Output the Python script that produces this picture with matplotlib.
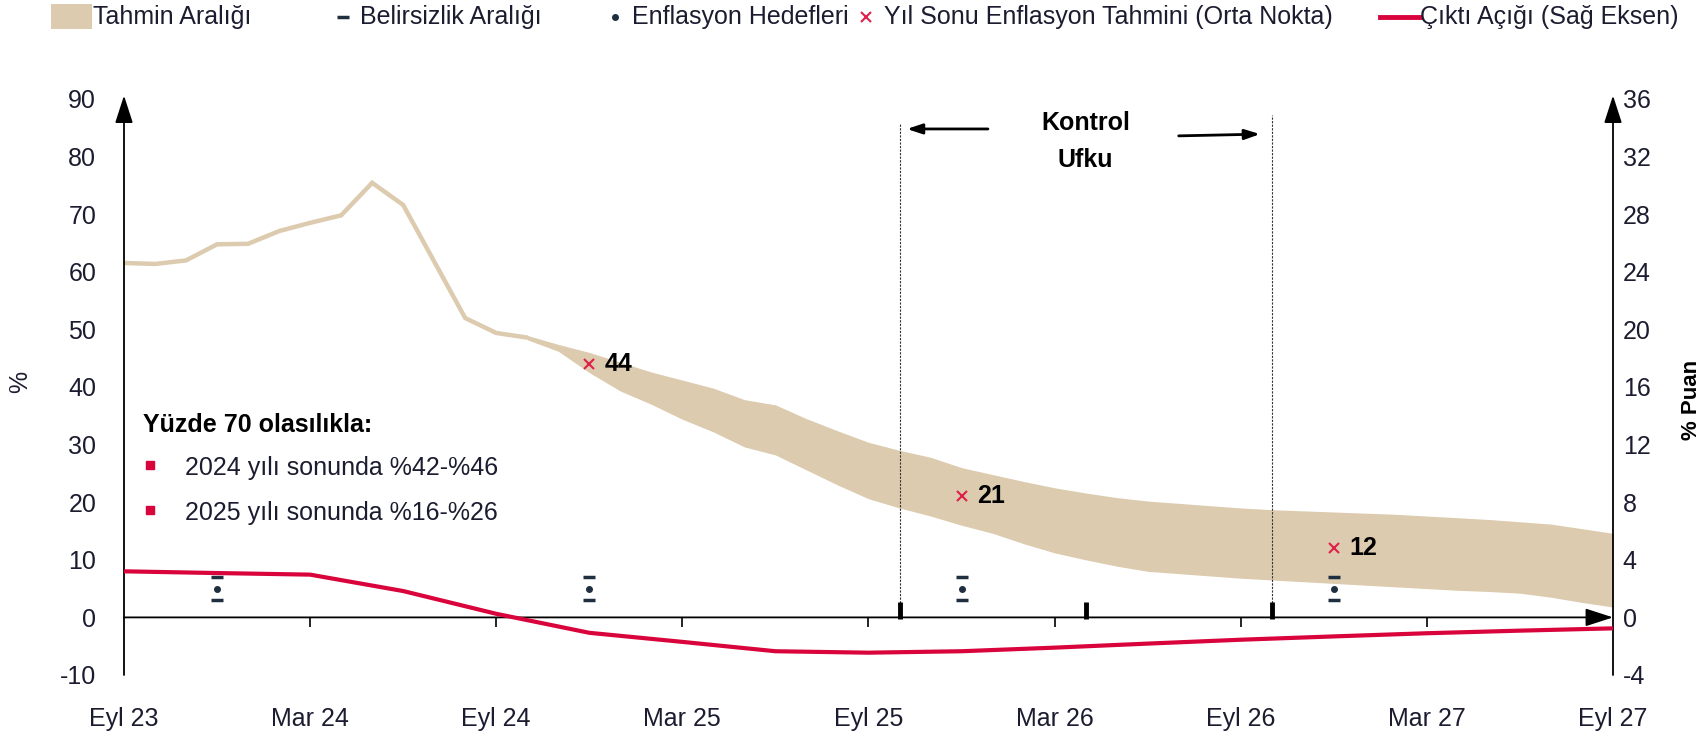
import numpy as np
import matplotlib.pyplot as plt
from matplotlib.lines import Line2D
from matplotlib.patches import Rectangle

plt.rcParams['font.family'] = ['Liberation Sans', 'DejaVu Sans']
plt.rcParams['axes.unicode_minus'] = False

W, H = 1708, 738

# aylar: 0 = Eyl 23 ... 48 = Eyl 27
tick_pos = [0, 6, 12, 18, 24, 30, 36, 42, 48]
tick_labels = ['Eyl 23', 'Mar 24', 'Eyl 24', 'Mar 25', 'Eyl 25',
               'Mar 26', 'Eyl 26', 'Mar 27', 'Eyl 27']

# gerceklesen enflasyon (Eyl 23 - Eki 24)
hist_months = np.arange(0, 14)
hist_infl = [61.53, 61.36, 61.98, 64.77, 64.86, 67.07, 68.50, 69.80,
             75.45, 71.60, 61.78, 51.97, 49.38, 48.58]

# tahmin araligi (Eki 24 - Eyl 27)
band_months = np.arange(13, 49)
band_upper = [48.95, 47.4, 46.0, 44.3, 42.6, 41.2, 39.8, 37.8, 36.9, 34.5,
              32.4, 30.4, 29.0, 27.8, 26.0, 24.8, 23.6, 22.5, 21.6, 20.8,
              20.2, 19.8, 19.4, 19.0, 18.7, 18.5, 18.3, 18.1, 17.9, 17.6,
              17.3, 17.0, 16.6, 16.2, 15.4, 14.6]
band_lower = [48.2, 46.2, 42.5, 39.3, 37.0, 34.4, 32.2, 29.6, 28.2, 25.6,
              23.0, 20.6, 19.0, 17.6, 16.0, 14.6, 12.8, 11.2, 10.0, 8.9,
              8.0, 7.6, 7.2, 6.8, 6.5, 6.2, 5.9, 5.6, 5.3, 5.0,
              4.7, 4.5, 4.2, 3.5, 2.6, 1.8]

# cikti acigi (ceyreklik, sag eksen)
gap_months = np.arange(0, 49, 3)
gap_values = [3.2, 3.08, 2.97, 1.83, 0.25, -1.07, -1.7, -2.35, -2.45,
              -2.35, -2.1, -1.82, -1.55, -1.32, -1.1, -0.92, -0.76]

# yil sonu tahminleri
yearend_months = [15, 27, 39]
yearend_mid = [44, 21, 12]

# enflasyon hedefleri ve belirsizlik araligi
target_months = [3, 15, 27, 39]
target_values = [5, 5, 5, 5]
target_lo = [3, 3, 3, 3]
target_hi = [7, 7, 7, 7]

# kontrol ufku
horizon_lines = [25, 37]
horizon_top = [85.8, 87.2]
horizon_marks = [25, 31, 37]

band_color = '#DCCBAE'
red = '#D9043C'
xred = '#E0204A'
navy = '#1F2F40'
txt = '#1C1C30'

fig = plt.figure(figsize=(W / 100, H / 100), dpi=100)
ax = fig.add_axes([124 / W, 63 / H, 1489 / W, 576 / H])
ax2 = ax.twinx()

ax.plot(hist_months, hist_infl, color=band_color, lw=3.2,
        solid_joinstyle='miter', solid_capstyle='round')
ax.fill_between(band_months, band_lower, band_upper, color=band_color, lw=0)

ax.plot(yearend_months, yearend_mid, 'x', color=xred, ms=7, mew=1.5)
for m, v in zip(yearend_months, yearend_mid):
    ax.annotate(str(v), (m, v), xytext=(11, 0), textcoords='offset points',
                ha='left', va='center', fontsize=18, fontweight='bold', color='black')

ax.plot(target_months, target_values, 'o', color=navy, ms=4)
ax.plot(target_months, target_lo, '_', color=navy, ms=8, mew=2.5)
ax.plot(target_months, target_hi, '_', color=navy, ms=8, mew=2.5)

ax.vlines(horizon_lines, 0, horizon_top, colors='#333333', lw=0.8,
          linestyles=(0, (2, 1.2)))
ax.vlines(horizon_marks, -0.3, 2.7, colors='black', lw=3.5)

ax.text(31, 85.8, 'Kontrol', ha='center', va='center', fontsize=18,
        fontweight='bold', color='black')
ax.text(31, 79.4, 'Ufku', ha='center', va='center', fontsize=18,
        fontweight='bold', color='black')
hprops = dict(arrowstyle='-|>,head_length=0.9,head_width=0.3', color='black',
              lw=2, shrinkA=0, shrinkB=0, mutation_scale=10)
ax.annotate('', xy=(25.24, 84.8), xytext=(27.85, 84.8), arrowprops=hprops)
ax.annotate('', xy=(36.62, 83.9), xytext=(34.0, 83.6), arrowprops=hprops)

ax2.plot(gap_months, gap_values, color=red, lw=3)

# eksenler
for a in (ax, ax2):
    for s in a.spines.values():
        s.set_visible(False)
aprops = dict(arrowstyle='-|>,head_length=1.7,head_width=0.55', color='black',
              lw=1.3, shrinkA=0, shrinkB=0, mutation_scale=10)
ax.annotate('', xy=(0, 1.006), xytext=(0, 0), xycoords='axes fraction', arrowprops=aprops)
ax.annotate('', xy=(1, 1.006), xytext=(1, 0), xycoords='axes fraction', arrowprops=aprops)
ax.annotate('', xy=(48, 0), xytext=(0, 0), xycoords='data', arrowprops=aprops)
ax.vlines(tick_pos[1:-1], -1.6, 0, colors='black', lw=1.2)

ax.set_xlim(0, 48)
ax.set_ylim(-10, 90)
ax2.set_ylim(-4, 36)
ax.set_xticks(tick_pos, tick_labels)
ax.set_yticks(range(-10, 91, 10))
ax2.set_yticks(range(-4, 37, 4))
ax.tick_params(axis='x', length=0, pad=23, labelsize=18, labelcolor=txt)
ax.tick_params(axis='y', length=0, pad=20, labelsize=18, labelcolor=txt)
ax2.tick_params(axis='y', length=0, pad=7, labelsize=18, labelcolor=txt)

fig.text(20 / W, 1 - 382 / H, '%', rotation=90, ha='center', va='center',
         fontsize=18, color=txt)
fig.text(1692 / W, 1 - 400 / H, '% Puan', rotation=90, ha='center', va='center',
         fontsize=16, fontweight='bold', color='black')

# olasilik kutusu
ax.text(0.0128, 0.434, 'Yüzde 70 olasılıkla:', transform=ax.transAxes,
        ha='left', va='center', fontsize=18, fontweight='bold', color='black')
ax.plot([0.0175, 0.0175], [0.3646, 0.2865], 's', color=red, ms=6,
        transform=ax.transAxes, clip_on=False)
ax.text(0.041, 0.359, '2024 yılı sonunda %42-%46', transform=ax.transAxes,
        ha='left', va='center', fontsize=18, color=txt)
ax.text(0.041, 0.281, '2025 yılı sonunda %16-%26', transform=ax.transAxes,
        ha='left', va='center', fontsize=18, color=txt)

# lejant
ly = 1 - 17 / H
fig.patches.append(Rectangle((51 / W, 1 - 29 / H), 41 / W, 25 / H,
                             transform=fig.transFigure, color=band_color, lw=0))
fig.lines.append(Line2D([343 / W], [ly], marker='_', color=navy, ms=8, mew=2.5,
                        transform=fig.transFigure))
fig.lines.append(Line2D([615 / W], [ly], marker='o', color=navy, ms=4,
                        transform=fig.transFigure))
fig.lines.append(Line2D([866 / W], [ly], marker='x', color=xred, ms=7, mew=1.5,
                        transform=fig.transFigure))
fig.lines.append(Line2D([1380 / W, 1420 / W], [ly, ly], color=red, lw=3.5,
                        transform=fig.transFigure))
legend_items = [(93, 'Tahmin Aralığı'), (360, 'Belirsizlik Aralığı'),
                (632, 'Enflasyon Hedefleri'),
                (884, 'Yıl Sonu Enflasyon Tahmini (Orta Nokta)'),
                (1420, 'Çıktı Açığı (Sağ Eksen)')]
for x, label in legend_items:
    fig.text(x / W, ly, label, ha='left', va='center', fontsize=18, color=txt)

fig.savefig('out.png', dpi=100)
